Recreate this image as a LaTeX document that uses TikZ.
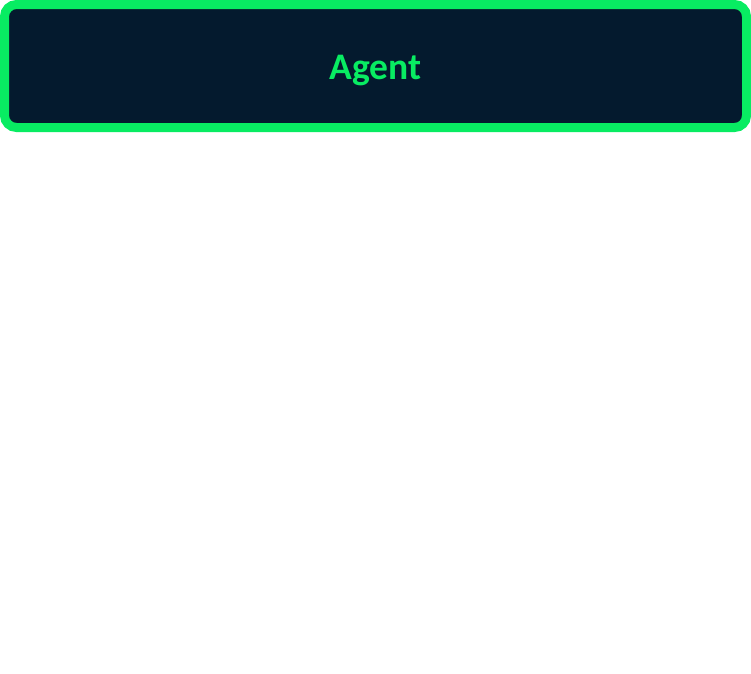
\documentclass[tikz,border=0pt]{standalone}
\usepackage{fontspec}
\setmainfont{Carlito}
\definecolor{agentgreen}{RGB}{8,236,98}
\definecolor{agentnavy}{RGB}{4,26,46}
\tikzset{
  agentbox/.style={draw=agentgreen, line width=9pt, fill=agentnavy, rounded corners=12pt},
  agentlabel/.style={text=agentgreen, font=\fontsize{37.5}{42}\selectfont\bfseries}
}
\begin{document}
\begin{tikzpicture}[x=1pt,y=-1pt]
\useasboundingbox (0,0) rectangle (751,673);
\fill[white] (0,0) rectangle (751,673);
\draw[agentbox] (4.5,4.5) rectangle (746.5,127.5);
\node[agentlabel] (agent) at (375.5,70.5) {Agent};
\end{tikzpicture}
\end{document}
